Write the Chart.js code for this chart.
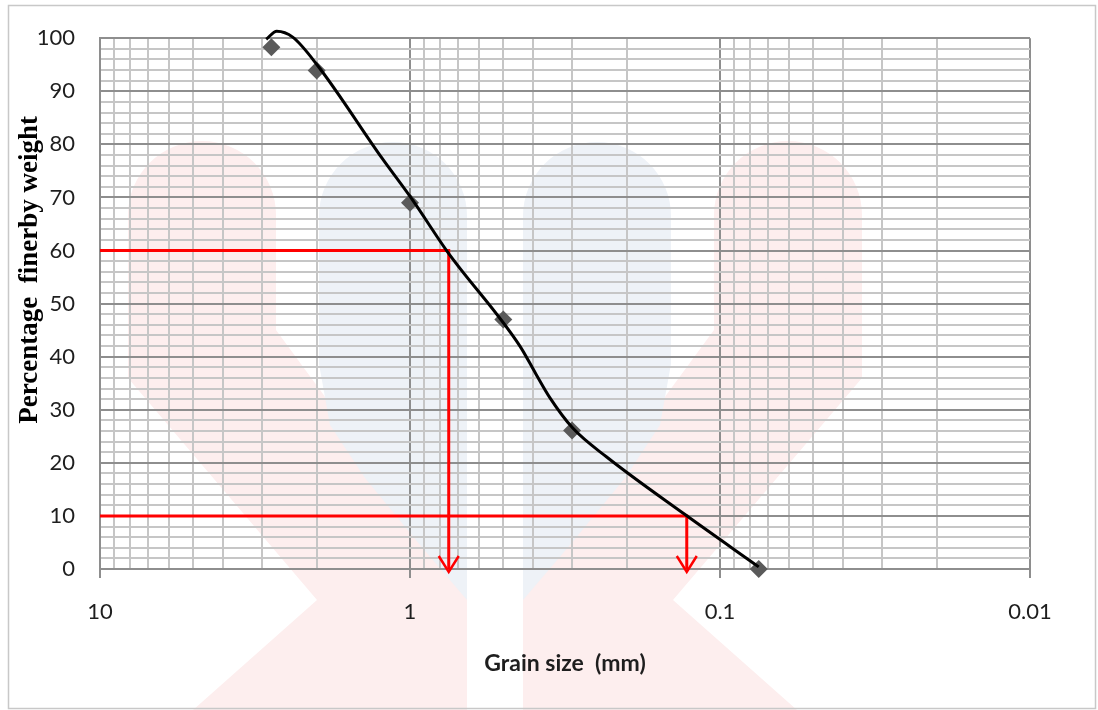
<!DOCTYPE html>
<html>
<head>
<meta charset="utf-8">
<script src="https://cdn.jsdelivr.net/npm/chart.js@4.4.1/dist/chart.umd.min.js"></script>
<style>
  html, body { margin: 0; padding: 0; background: #fff; }
  canvas { display: block; }
</style>
</head>
<body>
<canvas id="chart" width="1098" height="710"></canvas>
<script>
// sieve results (grain size in mm, percentage finer)
const sieveSizes = [2.8, 2.0, 1.0, 0.5, 0.3, 0.075]
const percentFiner = [98.3, 93.9, 69.0, 47.0, 26.1, 0]

// hand drawn smooth grading curve
const curveSizes = [2.91, 2.69, 2.39, 1.995, 1.231, 0.978, 0.76, 0.442, 0.393, 0.354, 0.298, 0.232, 0.13, 0.075]
const curveFiner = [99.8, 101.3, 100.2, 95.0, 77.4, 69.4, 59.9, 42.0, 36.8, 32.3, 26.5, 21.1, 10.3, 0.4]

// D60 and D10 construction lines
const d60Sizes = [10, 0.75, 0.75]
const d60Finer = [60, 60, 0]
const d10Sizes = [10, 0.128, 0.128]
const d10Finer = [10, 10, 0]
const arrowSizes = [0.75, 0.128]

// axes
const xDecades = [10, 1, 0.1, 0.01]
const xTickLabels = ['10', '1', '0.1', '0.01']
const xMinorSteps = [2, 3, 4, 5, 6, 7, 8, 9]
const yMin = 0
const yMax = 100
const yStep = 2
const yLabelStep = 10

const xGridValues = [...xDecades]
xDecades.slice(1).forEach(d => xMinorSteps.forEach(m => xGridValues.push(d * m)))

const isDecade = v => xDecades.includes(v)
const majorGrid = '#8e8e8e'
const minorGrid = '#c6c6c6'
const tickFont = { family: 'Lato', size: 22 }

const toPoints = (xs, ys) => xs.map((x, i) => ({ x, y: ys[i] }))

// faint logo watermark + sheet frame behind the plot (left half, mirrored)
const pinkShape = [[128, 215], [276, 215], [276, 330], [467, 590], [467, 710], [193, 710], [317, 600], [128, 378]]
const blueShape = [[319, 216], [467, 216], [467, 600], [420, 545], [365, 478], [330, 425], [319, 364]]

const backdrop = {
  id: 'backdrop',
  beforeDraw (chart) {
    const ctx = chart.ctx
    const mid = 495
    const fillShape = (pts, circle, color) => {
      [1, -1].forEach(s => {
        const mx = x => s === 1 ? x : 2 * mid - x
        ctx.fillStyle = color
        ctx.beginPath()
        pts.forEach(([x, y], i) => i ? ctx.lineTo(mx(x), y) : ctx.moveTo(mx(x), y))
        ctx.closePath()
        ctx.fill()
        ctx.beginPath()
        ctx.arc(mx(circle[0]), circle[1], circle[2], 0, Math.PI * 2)
        ctx.fill()
      })
    }
    ctx.save()
    fillShape(pinkShape, [202, 215, 74], '#fdeeee')
    fillShape(blueShape, [393, 216, 74], '#eef2f7')
    ctx.strokeStyle = '#c8c8c8'
    ctx.lineWidth = 1.5
    ctx.strokeRect(8.5, 5.5, 1087, 703)
    ctx.restore()
  }
}

// arrow heads at the bottom of the D60 / D10 drop lines
const arrowHeads = {
  id: 'arrowHeads',
  afterDatasetsDraw (chart) {
    const { ctx, scales: { x, y } } = chart
    ctx.save()
    ctx.strokeStyle = '#ff0000'
    ctx.lineWidth = 2.5
    arrowSizes.forEach(v => {
      const px = x.getPixelForValue(v)
      const py = y.getPixelForValue(0) + 3
      ctx.beginPath()
      ctx.moveTo(px - 10, py - 16)
      ctx.lineTo(px, py)
      ctx.lineTo(px + 10, py - 16)
      ctx.stroke()
    })
    ctx.restore()
  }
}

new Chart(document.getElementById('chart'), {
  type: 'scatter',
  data: {
    datasets: [
      {
        label: 'Grading curve',
        data: toPoints(curveSizes, curveFiner),
        showLine: true,
        borderColor: '#000000',
        borderWidth: 3,
        pointRadius: 0,
        cubicInterpolationMode: 'monotone',
        clip: false,
        order: 0
      },
      {
        label: 'Sieve analysis',
        data: toPoints(sieveSizes, percentFiner),
        pointStyle: 'rectRot',
        pointRadius: 9,
        backgroundColor: '#5a5a5a',
        borderColor: '#5a5a5a',
        borderWidth: 0,
        clip: false,
        order: 1
      },
      {
        label: 'D60',
        data: toPoints(d60Sizes, d60Finer),
        showLine: true,
        borderColor: '#ff0000',
        borderWidth: 3,
        pointRadius: 0,
        order: 2
      },
      {
        label: 'D10',
        data: toPoints(d10Sizes, d10Finer),
        showLine: true,
        borderColor: '#ff0000',
        borderWidth: 3,
        pointRadius: 0,
        order: 2
      }
    ]
  },
  options: {
    responsive: false,
    animation: false,
    layout: { padding: { left: 0, right: 68, top: 33, bottom: 0 } },
    plugins: {
      legend: { display: false },
      tooltip: { enabled: false }
    },
    scales: {
      x: {
        type: 'logarithmic',
        reverse: true,
        min: 0.01,
        max: 10,
        afterBuildTicks: s => { s.ticks = xGridValues.map(v => ({ value: v })) },
        afterFit: s => { s.height = 141 },
        grid: {
          lineWidth: 2,
          tickLength: 9,
          color: c => isDecade(c.tick.value) ? majorGrid : minorGrid,
          tickColor: c => isDecade(c.tick.value) ? majorGrid : 'rgba(0,0,0,0)'
        },
        border: { color: majorGrid, width: 2 },
        ticks: {
          autoSkip: false,
          maxRotation: 0,
          padding: 21,
          color: '#1e1e1e',
          font: tickFont,
          callback: v => {
            const i = xDecades.indexOf(v)
            return i >= 0 ? xTickLabels[i] : ''
          }
        },
        title: {
          display: true,
          text: 'Grain size  (mm)',
          color: '#1e1e1e',
          font: { family: 'Lato', size: 23, weight: 'bold' },
          padding: { top: 0, bottom: 33 }
        }
      },
      y: {
        min: yMin,
        max: yMax,
        afterFit: s => { s.width = 100 },
        grid: {
          lineWidth: 2,
          drawTicks: false,
          color: c => c.tick.value % yLabelStep === 0 ? majorGrid : minorGrid
        },
        border: { color: majorGrid, width: 2 },
        ticks: {
          stepSize: yStep,
          autoSkip: false,
          padding: 25,
          color: '#1e1e1e',
          font: tickFont,
          callback: v => v % yLabelStep === 0 ? String(v) : ''
        },
        title: {
          display: true,
          text: '\u00a0'.repeat(10) + 'Percentage  finerby weight',
          color: '#000000',
          font: { family: 'Liberation Serif', size: 27, weight: 'bold' },
          padding: { top: 14, bottom: 0 }
        }
      }
    }
  },
  plugins: [backdrop, arrowHeads]
})
</script>
</body>
</html>
